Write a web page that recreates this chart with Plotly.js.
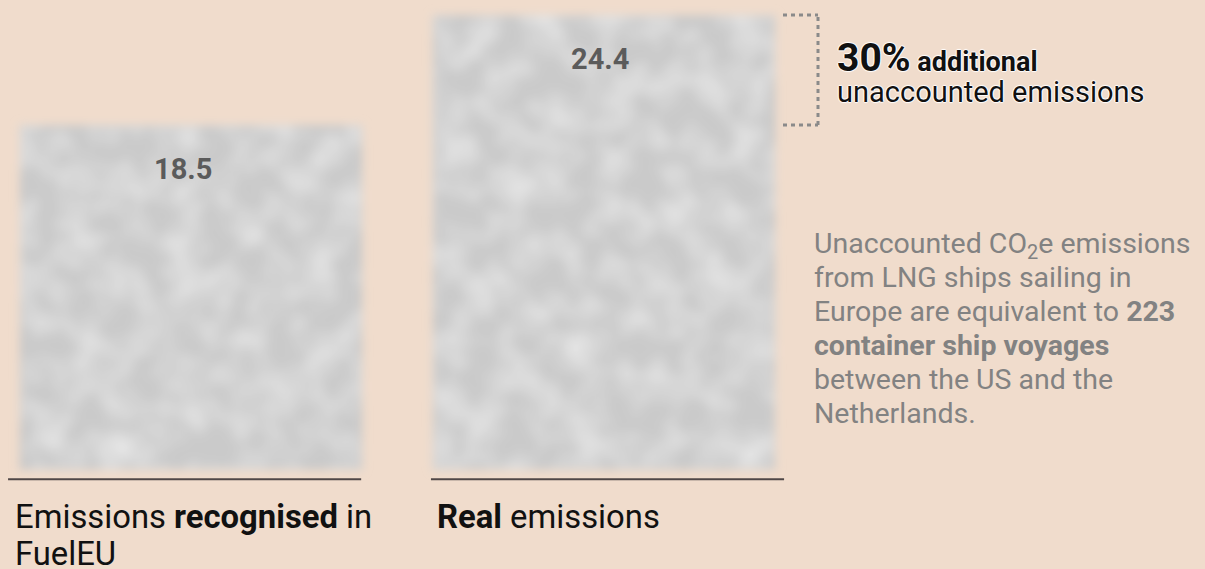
<!DOCTYPE html>
<html>
<head>
<meta charset="utf-8">
<script src="https://cdn.plot.ly/plotly-3.0.1.min.js"></script>
<style>
  html, body { margin: 0; padding: 0; background: #f0dccc; }
  #chart { width: 1205px; height: 569px; }
</style>
</head>
<body>
<div id="chart"></div>
<script>
// ---- data ----
const categories = ["Emissions recognised in FuelEU", "Real emissions"];
const values = [18.5, 24.4];
const valueLabels = ["18.5", "24.4"];
const categoryLabels = [
  "Emissions <b>recognised</b> in<br>FuelEU",
  "<b>Real</b> emissions"
];
const headlinePct = "30%";
const headlineRest = "additional";
const headlineLine2 = "unaccounted emissions";
const noteLines = [
  "Unaccounted CO<sub>2</sub>e emissions",
  "from LNG ships sailing in",
  "Europe are equivalent to <b>223</b>",
  "<b>container ship voyages</b>",
  "between the US and the",
  "Netherlands."
];

// ---- layout helpers ----
const W = 1205, H = 569;
const halo = "1px 0 1px #fff, -1px 0 1px #fff, 0 1px 1px #fff, 0 -1px 1px #fff";
const span = (px, t) => "<span style='font-size:" + px + "px'>" + t + "</span>";

const trace = {
  type: "bar",
  x: categories,
  y: values,
  width: 0.83,
  marker: { color: "#cacaca", line: { width: 0 } },
  hoverinfo: "skip"
};

const annotations = [];
// value labels inside bars near the top
const valueShift = [-8, -4];
categories.forEach((c, i) => {
  annotations.push({
    xref: "x", yref: "y", x: c, y: values[i],
    xanchor: "center", yanchor: "top", yshift: -25, xshift: valueShift[i],
    text: "<b>" + valueLabels[i] + "</b>",
    showarrow: false,
    font: { family: "Roboto, sans-serif", size: 29, color: "#5b5b5b" }
  });
});
// category labels below baselines (base size sets the 37px line pitch)
const labelLeft = [14, 436];
categoryLabels.forEach((t, i) => {
  annotations.push({
    xref: "paper", yref: "paper",
    x: labelLeft[i] / W, y: 1 - 497 / H,
    xanchor: "left", yanchor: "top", borderpad: 0,
    text: t.split("<br>").map(s => span(32.8, s)).join("<br>"),
    showarrow: false, align: "left",
    font: { family: "Roboto, sans-serif", size: 28.5, color: "#111111" }
  });
});
// headline (two lines, 31px pitch)
annotations.push({
  xref: "paper", yref: "paper", x: 836 / W, y: 1 - 34 / H,
  xanchor: "left", yanchor: "top", showarrow: false, align: "left", borderpad: 0,
  text: span(39, "<b>" + headlinePct + "</b>") + span(27, "<b> " + headlineRest + "</b>") +
        "<br>" + span(29, headlineLine2),
  font: { family: "Roboto, sans-serif", size: 24, color: "#111111", shadow: halo }
});
// side note, one annotation per line
noteLines.forEach((t, j) => {
  annotations.push({
    xref: "paper", yref: "paper", x: 813 / W, y: 1 - (226 + 34 * j) / H,
    xanchor: "left", yanchor: "top", showarrow: false, align: "left", borderpad: 0,
    text: t,
    font: { family: "Roboto, sans-serif", size: 28.5, color: "#828282" }
  });
});

const bx0 = 783 / W, bx1 = 818 / W;
const bracketLine = { color: "#8a8a8a", width: 3, dash: "4px,4px" };
const shapes = [
  // baselines under each bar
  { type: "line", xref: "x", yref: "y", x0: -0.443, x1: 0.412, y0: -0.5, y1: -0.5, line: { color: "#4f4747", width: 2 } },
  { type: "line", xref: "x", yref: "y", x0: 0.581, x1: 1.436, y0: -0.5, y1: -0.5, line: { color: "#4f4747", width: 2 } },
  // bracket showing the difference
  { type: "line", xref: "paper", yref: "y", x0: bx0, x1: bx1, y0: values[1], y1: values[1], line: bracketLine },
  { type: "line", xref: "paper", yref: "y", x0: bx1, x1: bx1, y0: values[0], y1: values[1], line: bracketLine },
  { type: "line", xref: "paper", yref: "y", x0: bx0, x1: bx1, y0: values[0], y1: values[0], line: bracketLine }
];

const layout = {
  width: W, height: H,
  margin: { l: 0, r: 0, t: 0, b: 0, pad: 0 },
  paper_bgcolor: "#f0dccc",
  plot_bgcolor: "#f0dccc",
  showlegend: false,
  xaxis: { type: "category", range: [-0.4625, 2.4552], showticklabels: false, showgrid: false, zeroline: false, showline: false, ticks: "", fixedrange: true },
  yaxis: { range: [-5.31, 25.21], showticklabels: false, showgrid: false, zeroline: false, showline: false, ticks: "", fixedrange: true },
  annotations: annotations,
  shapes: shapes,
  font: { family: "Roboto, sans-serif" }
};

Plotly.newPlot("chart", [trace], layout, { displayModeBar: false, staticPlot: true }).then(() => {
  const svg = document.querySelector("#chart .main-svg");
  const NS = "http://www.w3.org/2000/svg";
  let defs = svg.querySelector("defs");
  if (!defs) { defs = document.createElementNS(NS, "defs"); svg.insertBefore(defs, svg.firstChild); }
  const f = document.createElementNS(NS, "filter");
  f.setAttribute("id", "cloudblur");
  f.setAttribute("x", "-15%"); f.setAttribute("y", "-15%");
  f.setAttribute("width", "130%"); f.setAttribute("height", "130%");
  f.innerHTML =
    '<feTurbulence type="fractalNoise" baseFrequency="0.03" numOctaves="2" seed="7" result="noise"/>' +
    '<feColorMatrix in="noise" type="matrix" values="0 0 0 0 1  0 0 0 0 1  0 0 0 0 1  0.9 0 0 0 -0.32" result="light"/>' +
    '<feComposite in="light" in2="SourceGraphic" operator="in" result="lightIn"/>' +
    '<feMerge result="tex"><feMergeNode in="SourceGraphic"/><feMergeNode in="lightIn"/></feMerge>' +
    '<feGaussianBlur in="tex" stdDeviation="5"/>';
  defs.appendChild(f);
  document.querySelectorAll("#chart .bars .point path").forEach(p => {
    p.setAttribute("filter", "url(#cloudblur)");
  });
  // allow blur to spill out of the plot clip
  document.querySelectorAll("#chart .plot, #chart .barlayer, #chart .bars, #chart .trace").forEach(g => g.removeAttribute("clip-path"));
});
</script>
</body>
</html>
